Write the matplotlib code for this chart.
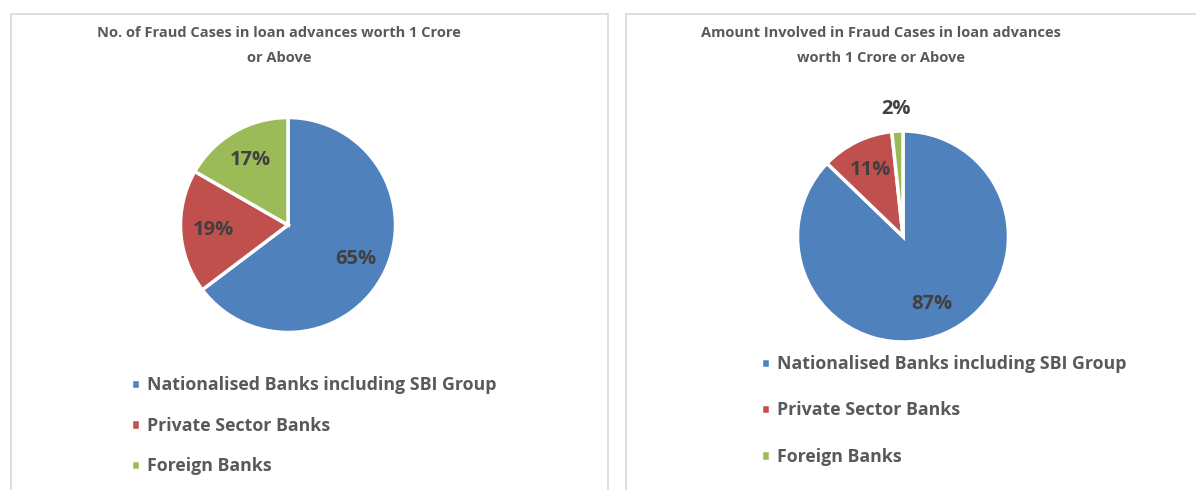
import matplotlib
matplotlib.use("Agg")
import matplotlib.pyplot as plt
from matplotlib.patches import Rectangle
import numpy as np

plt.rcParams['font.family'] = ['Open Sans', 'DejaVu Sans']
plt.rcParams['font.weight'] = 'bold'

# data
categories = ["Nationalised Banks including SBI Group", "Private Sector Banks", "Foreign Banks"]
cases_share = [64.7, 18.6, 16.7]
amount_share = [87.2, 11.1, 1.7]
colors = ["#4f81bd", "#c0504d", "#9bbb59"]
titles = ["No. of Fraud Cases in loan advances worth 1 Crore\nor Above",
          "Amount Involved in Fraud Cases in loan advances\nworth 1 Crore or Above"]

W, H = 1196, 490
fig = plt.figure(figsize=(W / 100, H / 100), dpi=100)
fig.patch.set_facecolor("white")

def px_axes(cx, cy, r):
    # square axes centred on (cx, cy) in pixel coords, y from top
    return fig.add_axes([(cx - r) / W, (H - cy - r) / H, 2 * r / W, 2 * r / H])

# panel borders
for x0, x1 in [(11, 608), (626, 1250)]:
    fig.patches.append(Rectangle((x0 / W, -0.1), (x1 - x0) / W, (H - 14) / H + 0.1,
                                 transform=fig.transFigure, fill=False,
                                 edgecolor="#d9d9d9", linewidth=1.2))

panels = [
    dict(vals=cases_share, cx=288, cy=225, r=107.5, tx=279, lx=124, ly=369, sp=1.28),
    dict(vals=amount_share, cx=903, cy=236.5, r=105.5, tx=881, lx=754, ly=348, sp=1.6),
]

for i, p in enumerate(panels):
    ax = px_axes(p["cx"], p["cy"], p["r"])
    wedges, texts, autotexts = ax.pie(p["vals"], colors=colors, startangle=90, counterclock=False,
                                      radius=1, autopct="%.0f%%", pctdistance=0.7,
                                      wedgeprops=dict(edgecolor="white", linewidth=2.5))
    for w, t in zip(wedges, autotexts):
        t.set_fontsize(14.5)
        t.set_color("#404040")
        t.set_fontweight("bold")
        if w.theta2 - w.theta1 < 15:
            ang = np.deg2rad((w.theta1 + w.theta2) / 2)
            t.set_position((1.21 * np.cos(ang), 1.21 * np.sin(ang)))
    ax.set_xlim(-1, 1)
    ax.set_ylim(-1, 1)
    ax.set_aspect("equal")
    ax.axis("off")

    fig.text(p["tx"] / W, 1 - 45.5 / H, titles[i], ha="center", va="center",
             fontsize=10.5, color="#595959", fontweight="bold", linespacing=2.0)

    leg = fig.legend(wedges, categories, loc="upper left",
                     bbox_to_anchor=(p["lx"] / W, 1 - p["ly"] / H),
                     frameon=False, fontsize=12.75, handlelength=0.5, handleheight=0.5,
                     handletextpad=0.4, labelspacing=p["sp"], borderaxespad=0)
    for t in leg.get_texts():
        t.set_color("#595959")
        t.set_fontweight("bold")

fig.savefig("out.png", dpi=100)
